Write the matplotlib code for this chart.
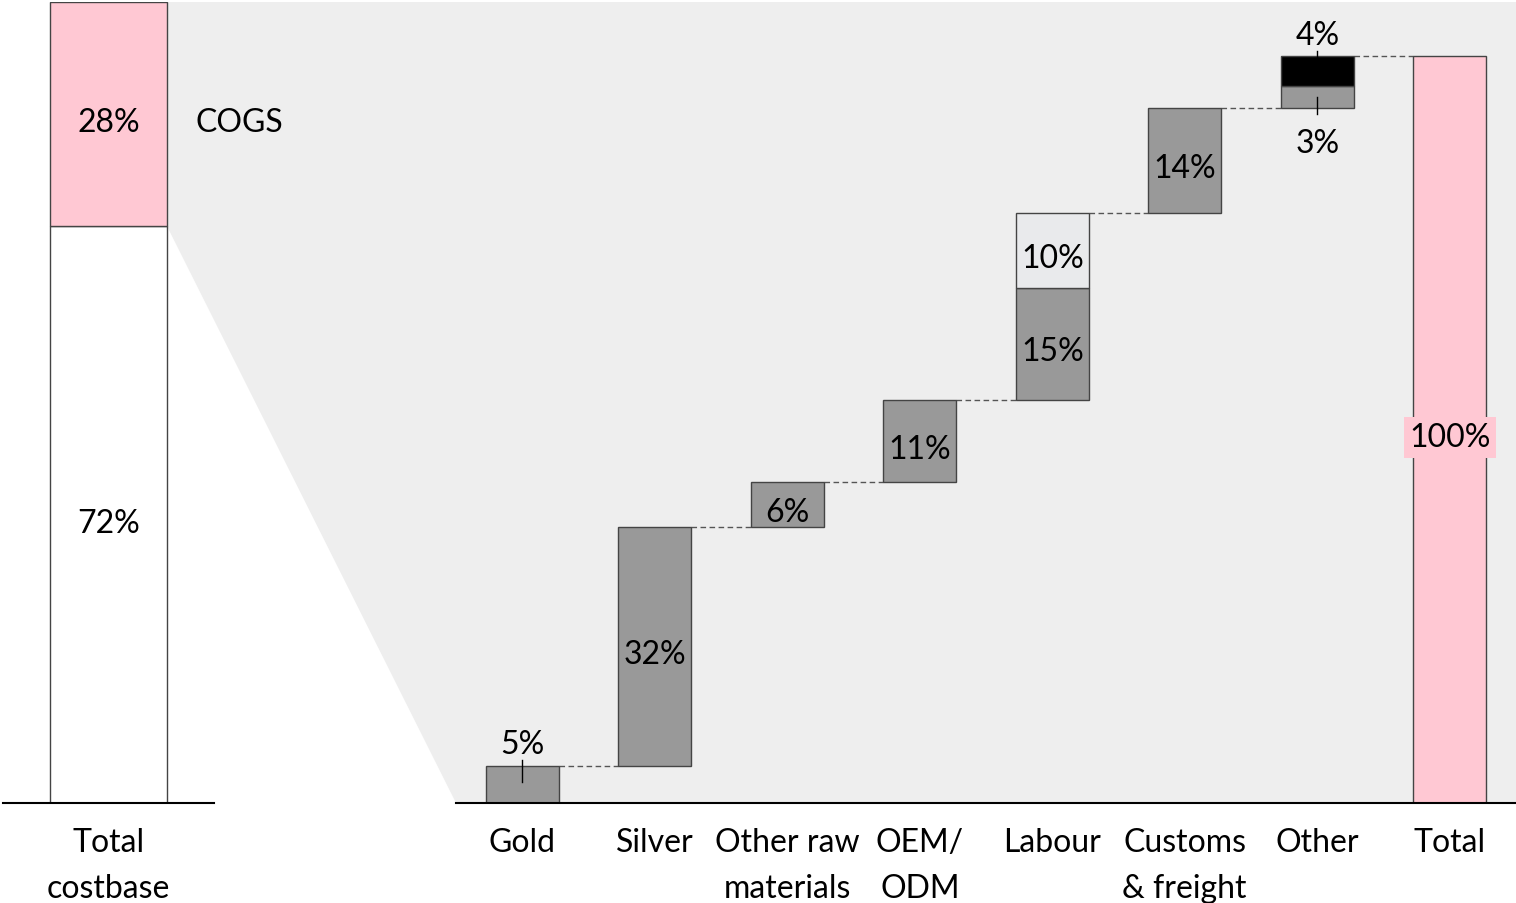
import matplotlib as mpl
import matplotlib.pyplot as plt
from matplotlib.patches import Polygon

mpl.use("Agg")

plt.rcParams["font.family"] = ["Lato", "DejaVu Sans"]
plt.rcParams["font.size"] = 23

# left reference bar: non-COGS vs COGS share of the total costbase
BASE_LABEL = "Total\ncostbase"
BASE_PARTS = [72, 28]
BASE_NOTE = "COGS"

# waterfall of COGS components (some steps stacked from two parts)
STEP_LABELS = ["Gold", "Silver", "Other raw\nmaterials", "OEM/\nODM",
               "Labour", "Customs\n& freight", "Other", "Total"]
STEP_PARTS = [[5], [32], [6], [11], [15, 10], [14], [3, 4]]
TOTAL_VALUE = 100

GREY = "#999999"
LIGHT = "#e9eaec"
PINK = "#ffc8d3"
BLACK = "#000000"
SHADE = "#eeeeee"
EDGE = "#444444"

# colour of each stacked part, same shape as STEP_PARTS
part_colors = [[GREY], [GREY], [GREY], [GREY], [GREY, LIGHT], [GREY], [GREY, BLACK]]
# labels that sit outside the bar with a small leader line
outside = {(0, 0): "above", (6, 0): "below", (6, 1): "above"}

W, H = 1516, 904
fig = plt.figure(figsize=(W / 100, H / 100), dpi=100)


def mid_label(ax, x, y, s, **kw):
    # centred label, nudged down a little to sit visually in the middle
    return ax.annotate(s, (x, y), xytext=(0, -3.5), textcoords="offset points",
                       va="center_baseline", **kw)


# axes placement in pixels of the reference
base_y = 100 / H
ax_h = 801 / H
ax_l = fig.add_axes([3 / W, base_y, 211 / W, ax_h])
ax_r = fig.add_axes([456 / W, base_y, 1060 / W, ax_h])
for ax in (ax_l, ax_r):
    ax.set_facecolor("none")
    for s in ("top", "right", "left"):
        ax.spines[s].set_visible(False)
    ax.spines["bottom"].set_linewidth(1.5)
    ax.spines["bottom"].set_color("black")
    ax.set_yticks([])
    ax.tick_params(axis="x", length=0, pad=17)

# ---- left bar ----
lw_base = 1.11
ax_l.set_xlim(-1, 1)
ax_l.set_ylim(0, sum(BASE_PARTS))
ax_l.bar(0, BASE_PARTS[0], width=lw_base, color="white", edgecolor=EDGE, linewidth=1)
ax_l.bar(0, BASE_PARTS[1], bottom=BASE_PARTS[0], width=lw_base, color=PINK,
         edgecolor=EDGE, linewidth=1)
mid_label(ax_l, 0, BASE_PARTS[0] / 2, f"{BASE_PARTS[0]}%", ha="center")
mid_label(ax_l, 0, BASE_PARTS[0] + BASE_PARTS[1] / 2, f"{BASE_PARTS[1]}%", ha="center")
mid_label(ax_l, lw_base / 2 + 0.27, BASE_PARTS[0] + BASE_PARTS[1] / 2, BASE_NOTE, ha="left")
ax_l.set_xticks([0], [BASE_LABEL], linespacing=1.67)

# ---- waterfall ----
bw = 0.55
ax_r.set_xlim(-0.5, len(STEP_LABELS) - 0.5)
ax_r.set_ylim(0, TOTAL_VALUE * 801 / 747)

level = 0
tops = []
for i, parts in enumerate(STEP_PARTS):
    for j, v in enumerate(parts):
        ax_r.bar(i, v, bottom=level, width=bw, color=part_colors[i][j],
                 edgecolor=EDGE, linewidth=1, zorder=2)
        where = outside.get((i, j))
        if where == "above":
            top = level + v
            ax_r.plot([i, i], [top + 0.7, top - 2.2], color="black", lw=1, zorder=3)
            ax_r.annotate(f"{v}%", (i, top), xytext=(0, 9), textcoords="offset points",
                          ha="center", va="baseline", zorder=4)
        elif where == "below":
            ax_r.plot([i, i], [level + 1.5, level - 0.7], color="black", lw=1, zorder=3)
            ax_r.annotate(f"{v}%", (i, level), xytext=(0, -14), textcoords="offset points",
                          ha="center", va="top", zorder=4)
        else:
            mid_label(ax_r, i, level + v / 2, f"{v}%", ha="center", zorder=4)
        level += v
    tops.append(level)

n = len(STEP_PARTS)
ax_r.bar(n, TOTAL_VALUE, width=bw, color=PINK, edgecolor=EDGE, linewidth=1, zorder=2)
mid_label(ax_r, n, TOTAL_VALUE / 2, f"{TOTAL_VALUE}%", ha="center", zorder=4,
          bbox=dict(facecolor=PINK, edgecolor="none", pad=4))

# dashed connectors between consecutive bars
for i, t in enumerate(tops):
    ax_r.plot([i + bw / 2, i + 1 - bw / 2], [t, t], color="#555555", lw=1,
              ls=(0, (4, 2.5)), zorder=1)

ax_r.set_xticks(range(len(STEP_LABELS)), STEP_LABELS, linespacing=1.67)

# ---- shaded zoom region linking COGS to the waterfall ----
to_fig = fig.transFigure.inverted()
pts_disp = [
    ax_l.transData.transform((lw_base / 2, sum(BASE_PARTS))),
    ax_r.transAxes.transform((1, 1)),
    ax_r.transAxes.transform((1, 0)),
    ax_r.transAxes.transform((0, 0)),
    ax_l.transData.transform((lw_base / 2, BASE_PARTS[0])),
]
pts = to_fig.transform(pts_disp)
fig.add_artist(Polygon(pts, closed=True, facecolor=SHADE, edgecolor="none",
                       transform=fig.transFigure, zorder=-1))

fig.savefig("out.png", dpi=100)
plt.close(fig)
